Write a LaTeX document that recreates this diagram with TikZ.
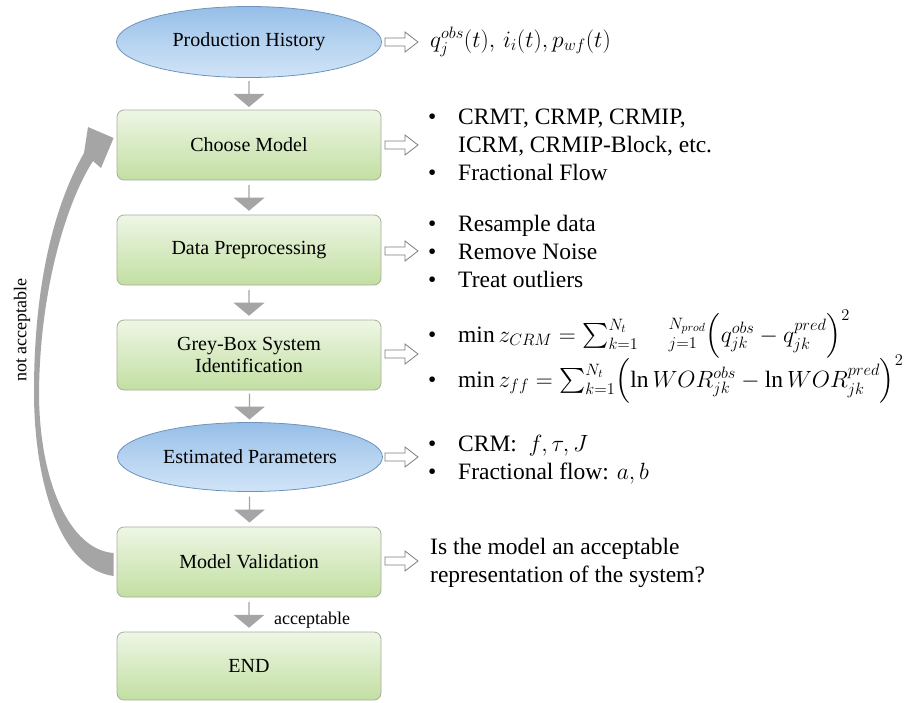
\RequirePackage{fix-cm}
\documentclass[tikz,border=0pt]{standalone}
\usepackage{amsmath}
\usepackage{fontspec}
\setmainfont{Liberation Serif}
\usetikzlibrary{shapes.geometric,shapes.arrows,calc}
\definecolor{boxtop}{RGB}{238,246,229}
\definecolor{boxbot}{RGB}{194,223,162}
\definecolor{boxborder}{RGB}{165,175,155}
\definecolor{elltop}{RGB}{150,190,232}
\definecolor{ellmid}{RGB}{182,211,240}
\definecolor{ellbot}{RGB}{208,228,247}
\definecolor{ellborder}{RGB}{110,148,190}
\definecolor{arrgray}{RGB}{165,165,165}
\definecolor{hollowgray}{RGB}{125,125,125}
\begin{document}
\begin{tikzpicture}[x=1pt,y=-1pt,
  procbox/.style={draw=boxborder, line width=0.8pt, rounded corners=7pt,
    minimum width=264pt, minimum height=70pt, inner sep=0pt,
    top color=boxtop, bottom color=boxbot, align=center,
    font=\fontsize{20}{22}\selectfont},
  ellbox/.style={ellipse, draw=ellborder, line width=0.8pt,
    minimum width=265pt, minimum height=71pt, inner sep=0pt,
    top color=elltop, bottom color=ellbot, middle color=ellmid,
    font=\fontsize{20}{22}\selectfont},
  downarrow/.style={single arrow, shape border rotate=270, fill=arrgray,
    draw=none, minimum height=26pt, minimum width=31pt, inner sep=0pt,
    single arrow head extend=5pt, single arrow head indent=0pt,
    single arrow tip angle=100},
  hollowarr/.style={draw=hollowgray, fill=white, line width=0.8pt, line join=miter},
  sidetext/.style={anchor=west, align=left, inner sep=0pt,
    font=\fontsize{23.5}{28}\selectfont},
  smalltext/.style={inner sep=0pt, font=\fontsize{18}{20}\selectfont}
]
\useasboundingbox (0,0) rectangle (916,702);

% main column
\node[ellbox]  (ph) at (249,42)  {Production History};
\node[procbox] (cm) at (249,145) {Choose Model};
\node[procbox] (dp) at (249,250) {Data Preprocessing};
\node[procbox] (gb) at (249,355) {Grey-Box System\\Identification};
\node[ellbox, minimum height=69pt] (ep) at (250,457) {Estimated Parameters};
\node[procbox] (mv) at (249,562) {Model Validation};
\node[procbox, minimum height=68pt] (en) at (249,666) {END};

% down arrows
\path (ph.south) -- (cm.north) node[midway, downarrow] (a1) {};
\path (cm.south) -- (dp.north) node[midway, downarrow] (a2) {};
\path (dp.south) -- (gb.north) node[midway, downarrow] (a3) {};
\path (gb.south) -- (ep.north) node[midway, downarrow] (a4) {};
\path (ep.south) -- (mv.north) node[midway, downarrow] (a5) {};
\path (mv.south) -- (en.north) node[midway, downarrow] (a6) {};
\node[smalltext, anchor=west] (acc) at (274,620) {acceptable};

% feedback arrow
\fill[arrgray]
  ($(mv.west)+(-3,14)$) .. controls (60,569) and (34,482) .. (34,392)
  .. controls (34,282) and (55,204) .. (84,153)
  -- (88,127) -- ($(cm.west)+(-3,-7)$) -- (101,168) -- (93,161)
  .. controls (66,203) and (40,290) .. (39,392)
  .. controls (39,482) and (70,550) .. ($(mv.west)+(-3,-9)$) -- cycle;
\node[smalltext, rotate=90] (na) at (22,330) {not acceptable};

% hollow arrows
\foreach \n/\yy in {h1/42,h2/145,h3/251,h4/354,h5/457,h6/561}{
  \coordinate (\n) at (401,\yy);
  \draw[hollowarr] ($(\n)+(-16,-4)$) -- ($(\n)+(4,-4)$) -- ($(\n)+(4,-10)$)
    -- ($(\n)+(17,0)$) -- ($(\n)+(4,10)$) -- ($(\n)+(4,4)$)
    -- ($(\n)+(-16,4)$) -- cycle;
}

% side texts
\node[sidetext] (t1) at (430,42) {$q_j^{obs}(t),\, i_i(t), p_{wf}(t)$};
\node[sidetext] (t2) at (428,145) {\makebox[30pt][l]{\textbullet}CRMT, CRMP, CRMIP,\\
  \hspace*{30pt}ICRM, CRMIP-Block, etc.\\
  \makebox[30pt][l]{\textbullet}Fractional Flow};
\node[sidetext] (t3) at (428,251) {\makebox[30pt][l]{\textbullet}Resample data\\
  \makebox[30pt][l]{\textbullet}Remove Noise\\
  \makebox[30pt][l]{\textbullet}Treat outliers};
\node[sidetext] (t4a) at (428,334) {\makebox[30pt][l]{\textbullet}$\min z_{CRM}=\sum_{k=1}^{N_t}\phantom{\sum}_{j=1}^{N_{prod}}\!\left(q_{jk}^{obs}-q_{jk}^{pred}\right)^2$};
\node[sidetext] (t4b) at (428,379) {\makebox[30pt][l]{\textbullet}$\min z_{ff}=\sum_{k=1}^{N_t}\!\left(\ln WOR_{jk}^{obs}-\ln WOR_{jk}^{pred}\right)^2$};
\node[sidetext] (t5) at (428,460) {\makebox[30pt][l]{\textbullet}CRM:\ \ $f,\tau,J$\\
  \makebox[30pt][l]{\textbullet}Fractional flow: $a,b$};
\node[sidetext] (t6) at (430,563) {Is the model an acceptable\\representation of the system?};
\end{tikzpicture}
\end{document}
